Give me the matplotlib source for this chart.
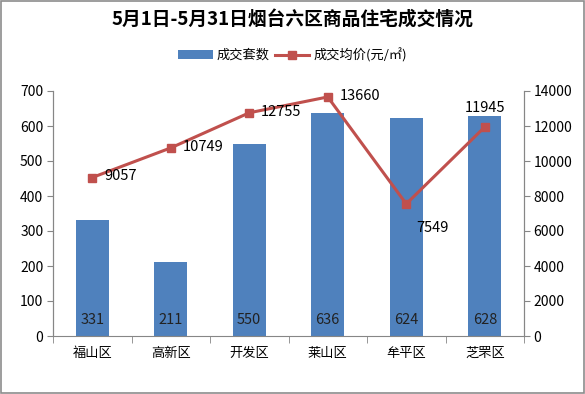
import matplotlib
matplotlib.use("Agg")
import matplotlib.pyplot as plt
from matplotlib.patches import Rectangle

plt.rcParams['font.family'] = ['Noto Sans CJK SC', 'DejaVu Sans']

districts = ["福山区", "高新区", "开发区", "莱山区", "牟平区", "芝罘区"]
units = [331, 211, 550, 636, 624, 628]
prices = [9057, 10749, 12755, 13660, 7549, 11945]
title = "5月1日-5月31日烟台六区商品住宅成交情况"
bar_name = "成交套数"
line_name = "成交均价(元/㎡)"

bar_color = "#4F81BD"
line_color = "#C0504D"
axis_color = "#868686"

fig = plt.figure(figsize=(5.85, 3.94), dpi=100)
fig.patches.append(Rectangle((0.002, 0.003), 0.996, 0.994, transform=fig.transFigure,
                             fill=False, edgecolor="#8c8c8c", linewidth=1.2))
ax = fig.add_axes([53/585, 1-336/394, (524-53)/585, (336-91)/394])
ax2 = ax.twinx()

x = list(range(len(districts)))
bars = ax.bar(x, units, width=0.42, color=bar_color, label=bar_name, zorder=2)
ax.set_ylim(0, 700)
ax.set_yticks(range(0, 701, 100))
ax.set_xlim(-0.5, len(districts) - 0.5)
ax.set_xticks(x)
ax.set_xticklabels(districts)
ax.tick_params(axis='x', length=0, pad=8, labelsize=9.5)
ax.set_xticks([i + 0.5 for i in range(-1, len(districts))], minor=True)
ax.tick_params(axis='x', which='minor', length=5, color=axis_color, direction='out')
ax.tick_params(axis='y', length=4, color=axis_color, labelsize=10, pad=3)

for i, v in enumerate(units):
    ax.text(i, 45, str(v), ha='center', va='center', fontsize=10.5, color='#222222', zorder=5)

ax2.plot(x, prices, color=line_color, linewidth=2.2, marker='s', markersize=6,
         label=line_name, zorder=3)
ax2.set_ylim(0, 14000)
ax2.set_yticks(range(0, 14001, 2000))
ax2.tick_params(axis='y', length=4, color=axis_color, labelsize=10, pad=3)

for i, v in enumerate(prices):
    if i == len(prices) - 1:
        ax2.text(i, v + 700, str(v), ha='center', va='bottom', fontsize=10.5)
    elif i == 4:
        ax2.text(i + 0.13, v - 1400, str(v), ha='left', va='center', fontsize=10.5)
    else:
        ax2.text(i + 0.15, v + 60, str(v), ha='left', va='center', fontsize=10.5)

for a in (ax, ax2):
    a.spines['top'].set_visible(False)
    for s in ('left', 'right', 'bottom'):
        a.spines[s].set_color(axis_color)
ax2.spines['bottom'].set_visible(False)

fig.text(0.5, 1-20/394, title, ha='center', va='center', fontsize=13.5, fontweight='bold')

h1, l1 = ax.get_legend_handles_labels()
h2, l2 = ax2.get_legend_handles_labels()
fig.legend(h1 + h2, l1 + l2, loc='center', bbox_to_anchor=(0.5, 1-55/394), ncol=2,
           frameon=False, fontsize=9.5, handlelength=2.6, columnspacing=0.4,
           handletextpad=0.3)

fig.savefig("out.png", dpi=100)
